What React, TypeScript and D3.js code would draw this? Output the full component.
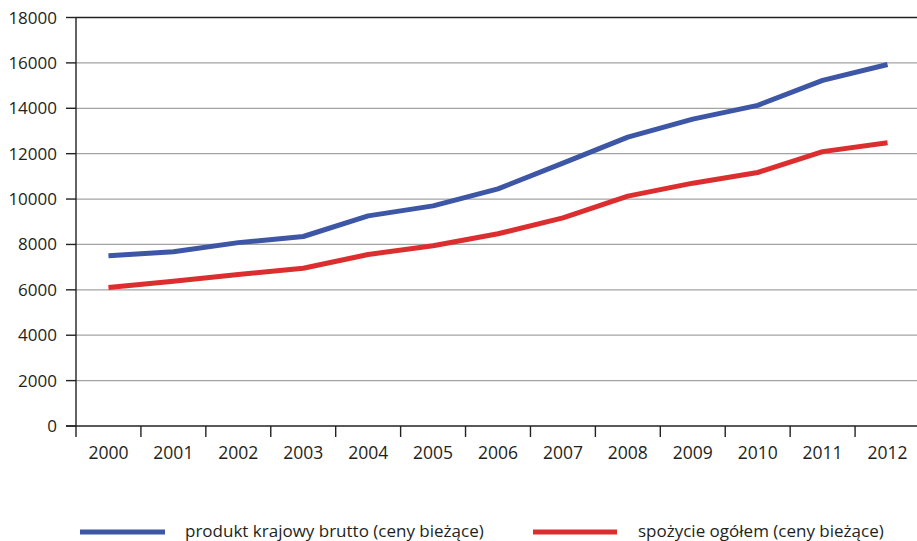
import React from "react";
import * as d3 from "d3";

const years = ["2000", "2001", "2002", "2003", "2004", "2005", "2006", "2007", "2008", "2009", "2010", "2011", "2012"];
const gdp = [7500, 7680, 8080, 8350, 9260, 9700, 10450, 11580, 12730, 13520, 14130, 15230, 15930];
const consumption = [6100, 6380, 6680, 6950, 7560, 7940, 8470, 9170, 10130, 10700, 11170, 12090, 12480];
const yTicks = [0, 2000, 4000, 6000, 8000, 10000, 12000, 14000, 16000, 18000];
const seriesNames = ["produkt krajowy brutto (ceny bieżące)", "spożycie ogółem (ceny bieżące)"];

const W = 917;
const H = 541;
const left = 76;
const right = 920;
const top = 17.5;
const bottom = 426;
const font = "'Open Sans', sans-serif";
const colors = ["#3d56a6", "#dc2e2f"];
const textColor = "#231f20";

export default function App() {
  const x = d3.scaleBand<string>().domain(years).range([left, right]).padding(0);
  const y = d3.scaleLinear().domain([0, 18000]).range([bottom, top]);
  const cx = (yr: string) => (x(yr) as number) + x.bandwidth() / 2;
  const line = d3
    .line<number>()
    .x((_, i) => cx(years[i]))
    .y((v) => y(v));

  return (
    <svg width={W} height={H} style={{ position: "absolute", left: 0, top: 0, background: "#fff" }}>
      {/* horizontal gridlines and y tick labels */}
      {yTicks.map((t) => (
        <g key={t}>
          {t > 0 && (
            <line
              x1={left}
              x2={W}
              y1={y(t)}
              y2={y(t)}
              stroke={t === 18000 ? "#222" : "#a3a3a3"}
              strokeWidth={t === 18000 ? 1.4 : 1.3}
            />
          )}
          <line x1={66} x2={left} y1={y(t)} y2={y(t)} stroke="#222" strokeWidth={1.4} />
          <text x={57} y={y(t) + 6} textAnchor="end" fontFamily={font} fontSize={17} fill={textColor}>
            {t}
          </text>
        </g>
      ))}
      {/* axes */}
      <line x1={left} x2={left} y1={top} y2={437} stroke="#222" strokeWidth={1.4} />
      <line x1={66} x2={W} y1={bottom} y2={bottom} stroke="#222" strokeWidth={1.4} />
      {years.map((yr, i) => (
        <g key={yr}>
          {i > 0 && (
            <line
              x1={x(yr) as number}
              x2={x(yr) as number}
              y1={bottom}
              y2={437}
              stroke="#222"
              strokeWidth={1.4}
            />
          )}
          <text x={cx(yr)} y={458.5} textAnchor="middle" fontFamily={font} fontSize={17.5} fill={textColor}>
            {yr}
          </text>
        </g>
      ))}
      {/* series */}
      {[gdp, consumption].map((s, i) => (
        <path
          key={i}
          d={line(s) as string}
          fill="none"
          stroke={colors[i]}
          strokeWidth={5}
          strokeLinejoin="round"
        />
      ))}
      {/* legend */}
      <line x1={80} x2={165} y1={532} y2={532} stroke={colors[0]} strokeWidth={5} />
      <text x={185} y={537} fontFamily={font} fontSize={17} fill={textColor}>
        {seriesNames[0]}
      </text>
      <line x1={533} x2={617} y1={532} y2={532} stroke={colors[1]} strokeWidth={5} />
      <text x={638} y={537} fontFamily={font} fontSize={17} fill={textColor}>
        {seriesNames[1]}
      </text>
    </svg>
  );
}
